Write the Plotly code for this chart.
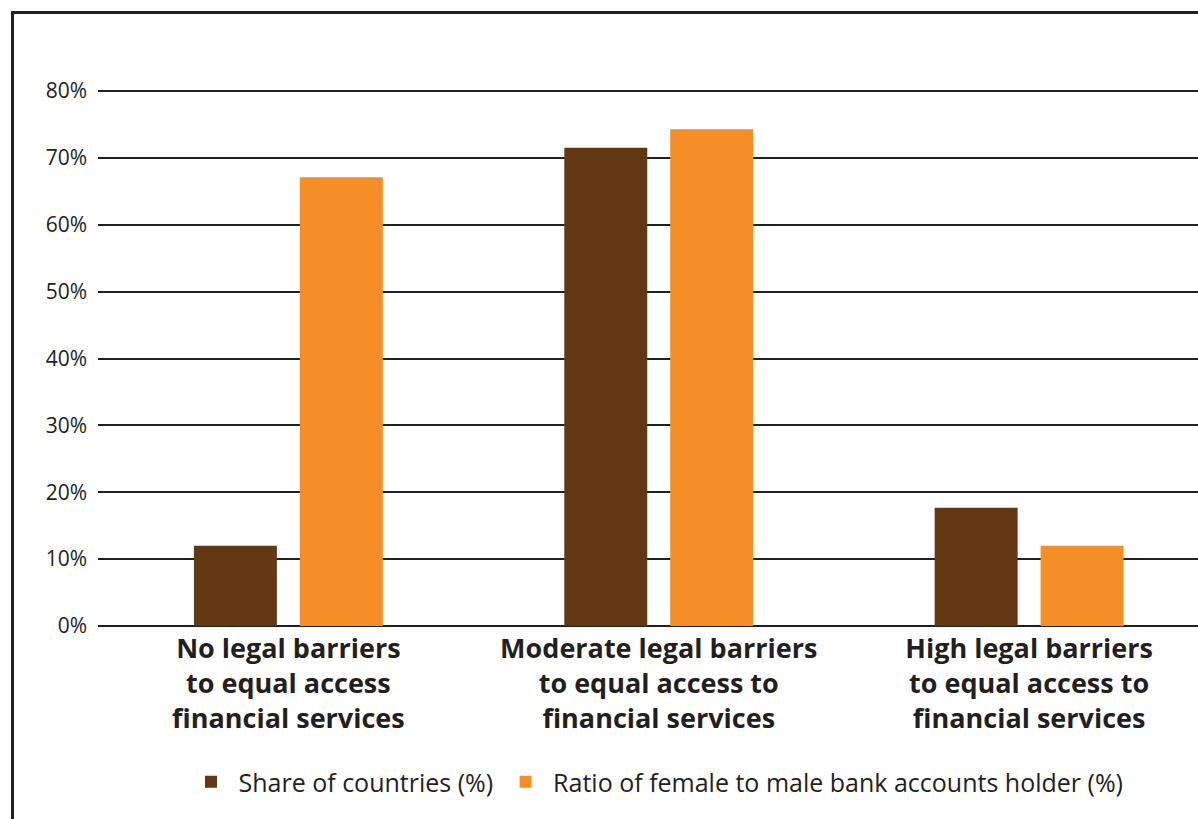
import plotly.graph_objects as go

categories = [
    "No legal barriers<br>to equal access<br>financial services",
    "Moderate legal barriers<br>to equal access to<br>financial services",
    "High legal barriers<br>to equal access to<br>financial services",
]
share_of_countries = [12.0, 71.5, 17.7]
ratio_female_male = [67.1, 74.3, 12.0]
series_names = ["Share of countries (%)", "Ratio of female to male bank accounts holder (%)"]
y_tick_values = [0, 10, 20, 30, 40, 50, 60, 70, 80]
y_tick_labels = ["0%", "10%", "20%", "30%", "40%", "50%", "60%", "70%", "80%"]

BROWN = "#623812"
ORANGE = "#F48F27"
INK = "#231f20"
FONT = "'Open Sans', Lato, sans-serif"

fig = go.Figure()
fig.add_trace(go.Bar(x=categories, y=share_of_countries, name=series_names[0],
                     marker=dict(color=BROWN, line=dict(width=0)),
                     width=0.224, offset=-0.255))
fig.add_trace(go.Bar(x=categories, y=ratio_female_male, name=series_names[1],
                     marker=dict(color=ORANGE, line=dict(width=0)),
                     width=0.224, offset=0.031))

W, H = 1198, 819
L, R, T, B = 98, 0, 40, 193
pw, ph = W - L - R, H - T - B
def px_x(px):
    return (px - L) / pw
def px_y(py):
    return (H - B - py) / ph

fig.update_layout(
    width=W, height=H,
    margin=dict(l=L, r=R, t=T, b=B, autoexpand=False),
    paper_bgcolor="white", plot_bgcolor="white",
    barmode="overlay",
    font=dict(family=FONT, color=INK),
    showlegend=True,
    legend=dict(orientation="h", x=px_x(656), xanchor="center",
                y=px_y(782), yanchor="middle", itemwidth=45,
                font=dict(family=FONT, size=25, color=INK),
                bgcolor="rgba(0,0,0,0)", traceorder="normal"),
    xaxis=dict(range=[-0.514, 2.456], showgrid=False, zeroline=False,
               showline=False, ticks="", ticklabelstandoff=4,
               tickfont=dict(family=FONT, size=27, color=INK, weight="bold")),
    yaxis=dict(range=[0, 87.63], tickvals=y_tick_values, ticktext=y_tick_labels,
               showgrid=True, gridcolor=INK, gridwidth=2,
               zeroline=True, zerolinecolor=INK, zerolinewidth=2,
               showline=False, ticks="", ticklabelstandoff=10,
               tickfont=dict(family=FONT, size=21, color=INK)),
    shapes=[
        dict(type="line", xref="paper", yref="paper",
             x0=px_x(12.5), x1=px_x(12.5), y0=px_y(11), y1=px_y(H + 5),
             line=dict(color=INK, width=3)),
        dict(type="line", xref="paper", yref="paper",
             x0=px_x(11), x1=px_x(W + 5), y0=px_y(12.5), y1=px_y(12.5),
             line=dict(color=INK, width=3)),
    ],
)

fig.write_html("out.html")
